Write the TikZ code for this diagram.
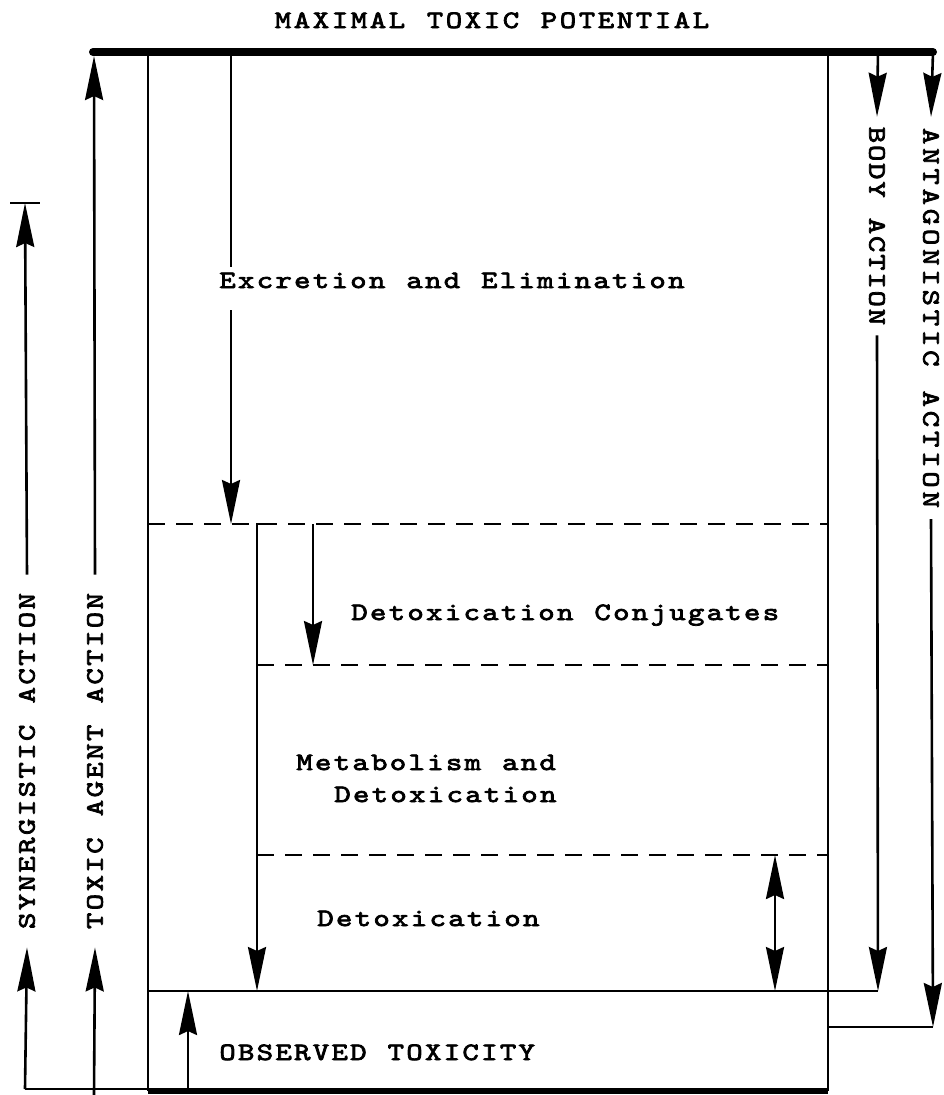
\documentclass[tikz,border=0pt]{standalone}
\usepackage{fontspec}
\usetikzlibrary{arrows.meta}
\newfontfamily\twfam[FakeStretch=1.25,FakeBold=3]{lmmono10-regular.otf}
\makeatletter
\newcommand\pitched[2]{\@tfor\pch:=#2\do{\makebox[#1][c]{\pch}}}
\makeatother
\newcommand\twfont{\twfam\fontsize{25}{28}\selectfont}
\begin{document}
\begin{tikzpicture}[x=1pt,y=-1pt,
  ln/.style={line width=2.6pt},
  >={Stealth[length=44pt,width=18pt,inset=4pt]},
  lbl/.style={font=\twfont, inner sep=0pt, text height=15.3pt, text depth=0pt},
  vlbl/.style={lbl, inner xsep=9pt},
  dsh/.style={ln, dash pattern=on 17pt off 11pt},
]
\useasboundingbox (0,0) rectangle (943,1095);
% coordinates
\coordinate (TL) at (93,52);
\coordinate (TR) at (933,52);
\coordinate (LT) at (148,52);
\coordinate (LB) at (148,1091);
\coordinate (RT) at (828,52);
\coordinate (RB) at (828,1091);
\coordinate (ExT) at (231,52);
\coordinate (ExG1) at (231,267);
\coordinate (ExG2) at (231,310);
\coordinate (ExB) at (231,524);
\coordinate (BodT) at (878,52);
\coordinate (BodB) at (878,991);
\coordinate (ObsL) at (148,991);
\coordinate (AntB) at (933,1027);
\coordinate (AntR) at (828,1027);
\coordinate (D1L) at (148,524);
\coordinate (D1R) at (828,524);
\coordinate (V2C) at (272,524);
\coordinate (V2T) at (257,524);
\coordinate (V2B) at (257,991);
\coordinate (C1T) at (313,524);
\coordinate (C1B) at (313,665);
\coordinate (D2L) at (257,665);
\coordinate (D2R) at (828,665);
\coordinate (D3L) at (257,855);
\coordinate (D3R) at (828,855);
\coordinate (DT) at (775,855);
\coordinate (DB) at (775,991);
\coordinate (OT) at (188,991);
\coordinate (OB) at (188,1091);
\coordinate (SynB) at (25,1089);
\coordinate (SynR) at (148,1089);
\coordinate (SynT) at (25,203);
\coordinate (SynBL) at (10,203);
\coordinate (SynBR) at (40,203);
\coordinate (TxB) at (94,1095);
\coordinate (TxT) at (94,56);
% labels
\node[lbl, anchor=base] (max) at (492,28) {\pitched{19pt}{MAXIMAL~TOXIC~POTENTIAL}};
\node[lbl, anchor=base west] (exc) at (218,288) {\pitched{18.7pt}{Excretion~and~Elimination}};
\node[lbl, anchor=base west] (conj) at (350,620) {\pitched{18.7pt}{Detoxication~Conjugates}};
\node[lbl, anchor=base west] (met) at (295,770) {\pitched{18.7pt}{Metabolism~and}};
\node[lbl, anchor=base west] (met2) at (333,802) {\pitched{18.7pt}{Detoxication}};
\node[lbl, anchor=base west] (det) at (316,926) {\pitched{18.7pt}{Detoxication}};
\node[lbl, anchor=base west] (obs) at (218,1060) {\pitched{18.7pt}{OBSERVED~TOXICITY}};
\node[vlbl, rotate=90, inner xsep=17pt] (syn) at (27,761) {\pitched{18.8pt}{SYNERGISTIC~ACTION}};
\node[vlbl, rotate=90, inner xsep=17pt] (tx) at (95,761) {\pitched{18.8pt}{TOXIC~AGENT~ACTION}};
\node[vlbl, rotate=-90] (body) at (877,226) {\pitched{18.2pt}{BODY~ACTION}};
\node[vlbl, rotate=-90] (ant) at (931,318) {\pitched{20.2pt}{ANTAGONISTIC~ACTION}};
% frame
\draw[line width=8pt, line cap=round] (TL) -- (TR);
\draw[ln] (LT) -- (LB);
\draw[ln] (RT) -- (RB);
\draw[line width=6pt] (LB) -- (RB);
% excretion
\draw[ln] (ExT) -- (ExG1);
\draw[ln,->] (ExG2) -- (ExB);
% dashed levels
\draw[dsh] (D1L) -- (D1R);
\draw[dsh] (D2L) -- (D2R);
\draw[dsh] (D3L) -- (D3R);
\draw[ln,->] (V2C) -- (V2T) -- (V2B);
\draw[ln,->] (C1T) -- (C1B);
\draw[ln,<->] (DT) -- (DB);
% observed toxicity
\draw[ln] (ObsL) -- (BodB);
\draw[ln,->] (OB) -- (OT);
% left actions
\draw[ln] (SynB) -- (SynR);
\draw[ln,->] (SynB) -- (syn.west);
\draw[ln,->] (syn.east) -- (SynT);
\draw[ln] (SynBL) -- (SynBR);
\draw[ln,->] (TxB) -- (tx.west);
\draw[ln,->] (tx.east) -- (TxT);
% right actions
\draw[ln,->] (BodT) -- (body.west);
\draw[ln,->] (body.east) -- (BodB);
\draw[ln,->] (TR) -- (ant.west);
\draw[ln,->] (ant.east) -- (AntB);
\draw[ln] (AntB) -- (AntR);
\end{tikzpicture}
\end{document}
